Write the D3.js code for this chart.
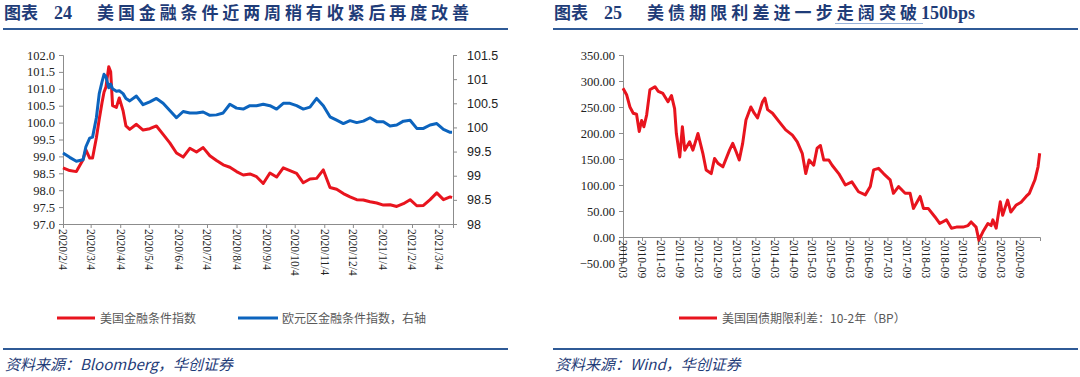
<!DOCTYPE html>
<html>
<head>
<meta charset="utf-8">
<script src="https://cdn.jsdelivr.net/npm/d3@7"></script>
<style>
html,body{margin:0;padding:0;background:#fff;}
svg{display:block;}
</style>
</head>
<body>
<svg id="c" width="1080" height="377"></svg>
<script>
// ---------- Data: chart 24 ----------
const fciDates = ["2020-02-04","2020-02-11","2020-02-18","2020-02-25","2020-02-28","2020-03-03","2020-03-06","2020-03-10","2020-03-13","2020-03-16","2020-03-18","2020-03-20","2020-03-23","2020-03-25","2020-03-27","2020-03-31","2020-04-03","2020-04-07","2020-04-10","2020-04-14","2020-04-21","2020-04-28","2020-05-05","2020-05-12","2020-05-19","2020-05-26","2020-06-02","2020-06-09","2020-06-16","2020-06-23","2020-06-30","2020-07-07","2020-07-14","2020-07-21","2020-07-28","2020-08-04","2020-08-11","2020-08-18","2020-08-25","2020-09-01","2020-09-08","2020-09-15","2020-09-22","2020-09-29","2020-10-06","2020-10-13","2020-10-20","2020-10-27","2020-11-03","2020-11-10","2020-11-17","2020-11-24","2020-12-01","2020-12-08","2020-12-15","2020-12-22","2020-12-29","2021-01-05","2021-01-12","2021-01-19","2021-01-26","2021-02-02","2021-02-09","2021-02-16","2021-02-23","2021-03-02","2021-03-09","2021-03-16","2021-03-18"];
const usFci = [98.66,98.58,98.55,98.9,99.19,98.95,98.95,99.55,100.1,100.6,100.9,101.05,101.65,101.5,100.5,100.45,100.73,100.35,99.9,99.8,99.95,99.78,99.82,99.9,99.65,99.4,99.1,98.98,99.24,99.13,99.26,99.02,98.88,98.75,98.68,98.55,98.45,98.48,98.4,98.2,98.51,98.39,98.66,98.58,98.5,98.22,98.33,98.35,98.6,98.08,98.03,97.9,97.8,97.72,97.71,97.66,97.62,97.56,97.57,97.52,97.6,97.72,97.54,97.55,97.72,97.92,97.72,97.8,97.78];
const euFci = [99.47,99.38,99.3,99.33,99.6,99.78,99.8,100.2,100.7,100.95,101.1,101.05,100.82,100.9,100.8,100.75,100.76,100.7,100.6,100.55,100.65,100.47,100.53,100.6,100.5,100.35,100.2,100.33,100.3,100.3,100.32,100.25,100.26,100.3,100.48,100.4,100.38,100.45,100.45,100.48,100.45,100.38,100.5,100.5,100.45,100.38,100.42,100.6,100.45,100.22,100.15,100.08,100.14,100.1,100.13,100.2,100.12,100.12,100.03,100.05,100.13,100.15,99.98,99.98,100.05,100.08,99.96,99.9,99.9];
const fciTickLabels = ["2020/2/4","2020/3/4","2020/4/4","2020/5/4","2020/6/4","2020/7/4","2020/8/4","2020/9/4","2020/10/4","2020/11/4","2020/12/4","2021/1/4","2021/2/4","2021/3/4"];
const fciLeftTicks = [97.0,97.5,98.0,98.5,99.0,99.5,100.0,100.5,101.0,101.5,102.0];
const fciRightTicks = [98,98.5,99,99.5,100,100.5,101,101.5];
const fciLegend = ["美国金融条件指数","欧元区金融条件指数，右轴"];

// ---------- Data: chart 25 ----------
const spreadDates = ["2010-03-01","2010-04-06","2010-05-07","2010-06-08","2010-07-10","2010-08-05","2010-08-28","2010-09-19","2010-10-16","2010-11-16","2011-01-04","2011-02-05","2011-03-22","2011-05-10","2011-06-13","2011-07-13","2011-07-30","2011-09-01","2011-09-26","2011-10-19","2011-12-05","2012-01-06","2012-02-24","2012-04-11","2012-05-13","2012-07-01","2012-08-02","2012-09-03","2012-10-22","2012-12-25","2013-01-25","2013-02-27","2013-03-29","2013-05-01","2013-06-02","2013-07-19","2013-08-21","2013-09-22","2013-11-09","2013-12-02","2013-12-28","2014-02-14","2014-04-18","2014-06-21","2014-08-25","2014-10-11","2014-11-28","2015-01-01","2015-02-02","2015-03-19","2015-04-21","2015-05-23","2015-06-24","2015-08-12","2015-09-13","2015-11-16","2016-01-19","2016-03-22","2016-05-25","2016-07-30","2016-09-16","2016-10-18","2016-12-05","2017-01-22","2017-03-27","2017-04-28","2017-06-16","2017-08-19","2017-10-06","2017-11-07","2018-01-11","2018-02-12","2018-03-30","2018-06-02","2018-07-19","2018-09-22","2018-11-10","2018-12-28","2019-03-01","2019-04-19","2019-05-19","2019-07-06","2019-08-02","2019-09-10","2019-10-28","2019-11-28","2019-12-15","2020-01-16","2020-02-25","2020-03-19","2020-05-06","2020-06-06","2020-07-25","2020-09-13","2020-11-01","2020-12-02","2021-01-25","2021-02-24","2021-03-12"];
const spreadValues = [286,273,250,238,236,203,224,212,235,283,289,280,276,260,272,247,199,154,212,167,183,167,199,161,129,122,151,142,135,167,180,164,148,180,225,250,238,229,260,267,245,238,222,206,196,183,161,122,148,138,171,176,148,148,138,122,100,106,87,81,97,129,132,122,110,84,97,84,84,55,78,55,55,39,26,33,17,19,19,22,29,19,-6,10,26,22,33,17,68,42,71,48,61,67,78,84,110,135,161];
const spreadTickLabels = ["2010-03","2010-09","2011-03","2011-09","2012-03","2012-09","2013-03","2013-09","2014-03","2014-09","2015-03","2015-09","2016-03","2016-09","2017-03","2017-09","2018-03","2018-09","2019-03","2019-09","2020-03","2020-09"];
const spreadYTicks = [-50,0,50,100,150,200,250,300,350];
const spreadLegend = "美国国债期限利差：10-2年（BP）";

// ---------- Rendering ----------
const svg = d3.select("#c");
const parse = d3.timeParse("%Y-%m-%d");
const parseSlash = d3.timeParse("%Y/%m/%d");
const parseYM = d3.timeParse("%Y-%m");
const SERIF = "'Liberation Serif','Times New Roman',serif";
const SANS = "'Liberation Sans','DejaVu Sans',sans-serif";
const CJK = "'Noto Sans CJK SC','Noto Sans',sans-serif";
const TITLE_C = "#1f3c78";
const RULE_C = "#2f5a96";
const AXIS_C = "#8c8c8c";
const RED = "#e8141e";
const BLUE = "#0c64be";

svg.append("rect").attr("width",1080).attr("height",377).attr("fill","#fff");

function header(x0, x1, num, text, tlen, tail) {
  const g = svg.append("g");
  g.append("text").attr("x", x0 + 1).attr("y", 19).attr("font-family", CJK).attr("font-weight", "bold")
    .attr("font-size", 17).attr("fill", TITLE_C).text("图表");
  g.append("text").attr("x", x0 + 51).attr("y", 19).attr("font-family", SERIF).attr("font-weight", "bold")
    .attr("font-size", 18).attr("fill", TITLE_C).text(num);
  g.append("text").attr("x", x0 + 94).attr("y", 19).attr("font-family", CJK).attr("font-weight", "bold")
    .attr("font-size", 17).attr("fill", TITLE_C).attr("textLength", tlen).attr("lengthAdjust", "spacing").text(text);
  if (tail) {
    g.append("text").attr("x", x0 + 94 + tlen + 4).attr("y", 19).attr("font-family", SERIF).attr("font-weight", "bold")
      .attr("font-size", 18).attr("fill", TITLE_C).text(tail);
  }
  g.append("line").attr("x1", x0).attr("x2", x1).attr("y1", 29).attr("y2", 29)
    .attr("stroke", RULE_C).attr("stroke-width", 2.2);
  g.append("line").attr("x1", x0).attr("x2", x1).attr("y1", 349).attr("y2", 349)
    .attr("stroke", RULE_C).attr("stroke-width", 2.2);
}
function source(x0, text) {
  svg.append("text").attr("x", x0).attr("y", 370).attr("font-family", CJK).attr("font-style", "italic")
    .attr("font-size", 15).attr("fill", TITLE_C).text(text);
}

// ===== Chart 24 =====
header(3, 508, "24", "美国金融条件近两周稍有收紧后再度改善", 372);
source(5, "资料来源：Bloomberg，华创证券");

const xL = d3.scaleTime().domain([parse("2020-02-04"), parse("2021-03-19")]).range([63, 453]);
const yL = d3.scaleLinear().domain([97, 102]).range([224, 55]);
const yR = d3.scaleLinear().domain([98, 101.5]).range([224, 55]);

const gL = svg.append("g");
const axL = gL.append("g").attr("transform", "translate(63,0)")
  .call(d3.axisLeft(yL).tickValues(fciLeftTicks).tickFormat(d3.format(".1f")).tickSize(4).tickPadding(4));
axL.selectAll("text").attr("font-family", SERIF).attr("font-size", 12.5).attr("fill", "#222");
const axR = gL.append("g").attr("transform", "translate(453,0)")
  .call(d3.axisRight(yR).tickValues(fciRightTicks).tickFormat(d => String(d)).tickSize(4).tickPadding(10));
axR.selectAll("text").attr("font-family", SANS).attr("font-size", 12.5).attr("fill", "#222");
const axB = gL.append("g").attr("transform", "translate(0,224)")
  .call(d3.axisBottom(xL).tickValues(fciTickLabels.map(parseSlash)).tickFormat(d3.timeFormat("%Y/%-m/%-d")).tickSize(4).tickPadding(0));
axB.selectAll("text").attr("font-family", SERIF).attr("font-size", 11.5).attr("fill", "#222")
  .attr("text-anchor", "start").attr("transform", "rotate(90)").attr("x", 5).attr("y", 0).attr("dy", "0.35em");
[axL, axR, axB].forEach(a => { a.select(".domain").attr("stroke", AXIS_C); a.selectAll(".tick line").attr("stroke", AXIS_C); });

const lineUS = d3.line().x((d, i) => xL(parse(fciDates[i]))).y(d => yL(d));
const lineEU = d3.line().x((d, i) => xL(parse(fciDates[i]))).y(d => yR(d));
gL.append("path").datum(usFci).attr("d", lineUS).attr("fill", "none").attr("stroke", RED).attr("stroke-width", 3).attr("stroke-linejoin", "round");
gL.append("path").datum(euFci).attr("d", lineEU).attr("fill", "none").attr("stroke", BLUE).attr("stroke-width", 3).attr("stroke-linejoin", "round");

const legL = svg.append("g");
legL.append("line").attr("x1", 57).attr("x2", 95).attr("y1", 318).attr("y2", 318).attr("stroke", RED).attr("stroke-width", 3);
legL.append("text").attr("x", 100).attr("y", 322.5).attr("font-family", CJK).attr("font-size", 12).attr("fill", "#595959").text(fciLegend[0]);
legL.append("line").attr("x1", 238).attr("x2", 278).attr("y1", 318).attr("y2", 318).attr("stroke", BLUE).attr("stroke-width", 3);
legL.append("text").attr("x", 282).attr("y", 322.5).attr("font-family", CJK).attr("font-size", 12).attr("fill", "#595959").text(fciLegend[1]);

// ===== Chart 25 =====
header(553, 1078, "25", "美债期限利差进一步走阔突破", 270, "150bps");
svg.append("line").attr("x1", 835).attr("x2", 923).attr("y1", 23.5).attr("y2", 23.5).attr("stroke", "#7f9fd0").attr("stroke-width", 0.8);
source(555, "资料来源：Wind，华创证券");

const xS = d3.scaleTime().domain([parse("2010-03-01"), parse("2021-03-15")]).range([623, 1040]);
const yS = d3.scaleLinear().domain([-50, 350]).range([263, 55]);
const gS = svg.append("g");
const axSY = gS.append("g").attr("transform", "translate(623,0)")
  .call(d3.axisLeft(yS).tickValues(spreadYTicks).tickFormat(d3.format(".2f")).tickSize(4).tickPadding(4));
axSY.selectAll("text").attr("font-family", SERIF).attr("font-size", 12.5).attr("fill", "#222");
const axSX = gS.append("g").attr("transform", "translate(0," + yS(0) + ")")
  .call(d3.axisBottom(xS).tickValues(spreadTickLabels.map(parseYM)).tickFormat(d3.timeFormat("%Y-%m")).tickSize(4).tickPadding(0));
axSX.selectAll("text").attr("font-family", SERIF).attr("font-size", 11.5).attr("fill", "#222")
  .attr("text-anchor", "start").attr("transform", "rotate(90)").attr("x", 3).attr("y", 0).attr("dy", "0.35em");
[axSY, axSX].forEach(a => { a.select(".domain").attr("stroke", AXIS_C); a.selectAll(".tick line").attr("stroke", AXIS_C); });

const lineS = d3.line().x((d, i) => xS(parse(spreadDates[i]))).y(d => yS(d));
gS.append("path").datum(spreadValues).attr("d", lineS).attr("fill", "none").attr("stroke", RED).attr("stroke-width", 3).attr("stroke-linejoin", "round");

const legS = svg.append("g");
legS.append("line").attr("x1", 679).attr("x2", 717).attr("y1", 318).attr("y2", 318).attr("stroke", RED).attr("stroke-width", 3);
legS.append("text").attr("x", 722).attr("y", 322.5).attr("font-family", CJK).attr("font-size", 12).attr("fill", "#595959").text(spreadLegend);
</script>
</body>
</html>
